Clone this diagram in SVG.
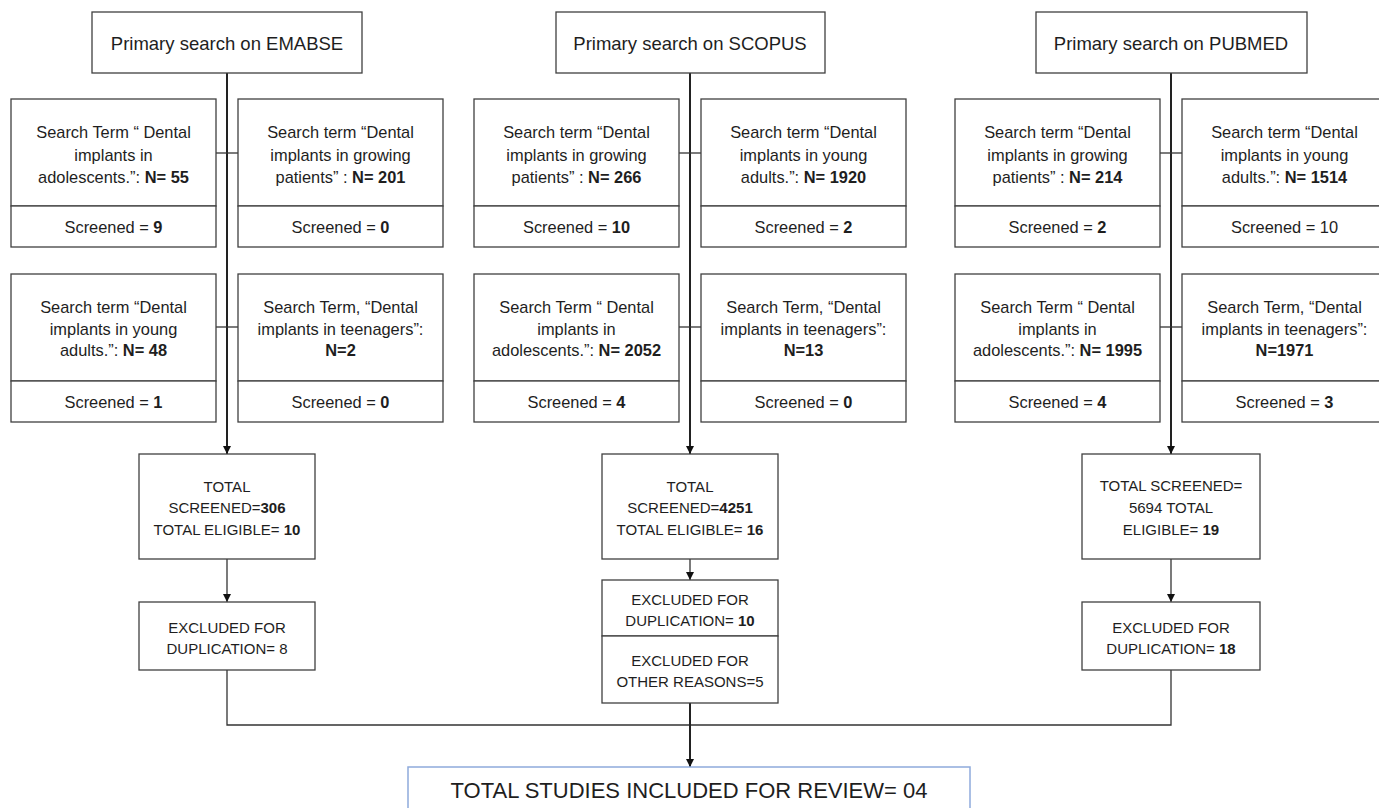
<svg xmlns="http://www.w3.org/2000/svg" width="1379" height="808" viewBox="0 0 1379 808">
<style>
.box{fill:#fff;stroke:#404040;stroke-width:1.3}
.bb{fill:#fff;stroke:#8faadc;stroke-width:1.5}
text{font-family:"Liberation Sans",Arial,sans-serif;fill:#1e1e1e;text-anchor:middle}
.p{font-size:18.5px}
.s{font-size:16.4px}
.t{font-size:15px}
.f{font-size:22px}
b,.b{font-weight:bold}
.c{fill:none;stroke:#333;stroke-width:1.3}
.m{fill:none;stroke:#222;stroke-width:2}
</style>
<defs>
<marker id="ah" viewBox="0 0 10 10" refX="10" refY="5" markerWidth="9" markerHeight="8" markerUnits="userSpaceOnUse" orient="auto">
<path d="M0,0 L10,5 L0,10 z" fill="#111"/>
</marker>
</defs>

<g id="connectors">
<line class="m" x1="227" y1="73" x2="227" y2="454" marker-end="url(#ah)"/>
<line class="m" x1="690" y1="73" x2="690" y2="454" marker-end="url(#ah)"/>
<line class="m" x1="1171" y1="73" x2="1171" y2="454" marker-end="url(#ah)"/>
<line class="c" x1="216" y1="153" x2="238" y2="153"/>
<line class="c" x1="216" y1="327" x2="238" y2="327"/>
<line class="c" x1="679" y1="153" x2="701" y2="153"/>
<line class="c" x1="679" y1="327" x2="701" y2="327"/>
<line class="c" x1="1160" y1="153" x2="1182" y2="153"/>
<line class="c" x1="1160" y1="327" x2="1182" y2="327"/>
<line class="c" x1="227" y1="559" x2="227" y2="602" marker-end="url(#ah)"/>
<line class="c" x1="690" y1="559" x2="690" y2="580" marker-end="url(#ah)"/>
<line class="c" x1="1171" y1="559" x2="1171" y2="602" marker-end="url(#ah)"/>
<polyline class="c" points="227,670 227,725 1171,725 1171,670"/>
<line class="m" x1="690" y1="703" x2="690" y2="767" marker-end="url(#ah)"/>
</g>

<g id="emabse-primary"><rect class="box" x="92" y="12" width="270" height="61"/><text class="p" x="227" y="49.5">Primary search on EMABSE</text></g>
<g id="scopus-primary"><rect class="box" x="556" y="12" width="269" height="61"/><text class="p" x="690" y="49.5">Primary search on SCOPUS</text></g>
<g id="pubmed-primary"><rect class="box" x="1036" y="12" width="271" height="61"/><text class="p" x="1171" y="49.5">Primary search on PUBMED</text></g>

<g id="e1">
<rect class="box" x="11" y="99" width="205" height="107"/><rect class="box" x="11" y="206" width="205" height="41"/>
<text class="s" x="113.5" y="138">Search Term “ Dental</text>
<text class="s" x="113.5" y="160.5">implants in</text>
<text class="s" x="113.5" y="183">adolescents.”: <tspan class="b">N= 55</tspan></text>
<text class="s" x="113.5" y="233">Screened = <tspan class="b">9</tspan></text>
</g>
<g id="e2">
<rect class="box" x="238" y="99" width="205" height="107"/><rect class="box" x="238" y="206" width="205" height="41"/>
<text class="s" x="340.5" y="138">Search term “Dental</text>
<text class="s" x="340.5" y="160.5">implants in growing</text>
<text class="s" x="340.5" y="183">patients” : <tspan class="b">N= 201</tspan></text>
<text class="s" x="340.5" y="233">Screened = <tspan class="b">0</tspan></text>
</g>
<g id="e3">
<rect class="box" x="11" y="274" width="205" height="107"/><rect class="box" x="11" y="381" width="205" height="41"/>
<text class="s" x="113.5" y="313">Search term “Dental</text>
<text class="s" x="113.5" y="334.5">implants in young</text>
<text class="s" x="113.5" y="356">adults.”: <tspan class="b">N= 48</tspan></text>
<text class="s" x="113.5" y="407.5">Screened = <tspan class="b">1</tspan></text>
</g>
<g id="e4">
<rect class="box" x="238" y="274" width="205" height="107"/><rect class="box" x="238" y="381" width="205" height="41"/>
<text class="s" x="340.5" y="313">Search Term, “Dental</text>
<text class="s" x="340.5" y="334.5">implants in teenagers”:</text>
<text class="s b" x="340.5" y="356">N=2</text>
<text class="s" x="340.5" y="407.5">Screened = <tspan class="b">0</tspan></text>
</g>

<g id="s1">
<rect class="box" x="474" y="99" width="205" height="107"/><rect class="box" x="474" y="206" width="205" height="41"/>
<text class="s" x="576.5" y="138">Search term “Dental</text>
<text class="s" x="576.5" y="160.5">implants in growing</text>
<text class="s" x="576.5" y="183">patients” : <tspan class="b">N= 266</tspan></text>
<text class="s" x="576.5" y="233">Screened = <tspan class="b">10</tspan></text>
</g>
<g id="s2">
<rect class="box" x="701" y="99" width="205" height="107"/><rect class="box" x="701" y="206" width="205" height="41"/>
<text class="s" x="803.5" y="138">Search term “Dental</text>
<text class="s" x="803.5" y="160.5">implants in young</text>
<text class="s" x="803.5" y="183">adults.”: <tspan class="b">N= 1920</tspan></text>
<text class="s" x="803.5" y="233">Screened = <tspan class="b">2</tspan></text>
</g>
<g id="s3">
<rect class="box" x="474" y="274" width="205" height="107"/><rect class="box" x="474" y="381" width="205" height="41"/>
<text class="s" x="576.5" y="313">Search Term “ Dental</text>
<text class="s" x="576.5" y="334.5">implants in</text>
<text class="s" x="576.5" y="356">adolescents.”: <tspan class="b">N= 2052</tspan></text>
<text class="s" x="576.5" y="407.5">Screened = <tspan class="b">4</tspan></text>
</g>
<g id="s4">
<rect class="box" x="701" y="274" width="205" height="107"/><rect class="box" x="701" y="381" width="205" height="41"/>
<text class="s" x="803.5" y="313">Search Term, “Dental</text>
<text class="s" x="803.5" y="334.5">implants in teenagers”:</text>
<text class="s b" x="803.5" y="356">N=13</text>
<text class="s" x="803.5" y="407.5">Screened = <tspan class="b">0</tspan></text>
</g>

<g id="p1">
<rect class="box" x="955" y="99" width="205" height="107"/><rect class="box" x="955" y="206" width="205" height="41"/>
<text class="s" x="1057.5" y="138">Search term “Dental</text>
<text class="s" x="1057.5" y="160.5">implants in growing</text>
<text class="s" x="1057.5" y="183">patients” : <tspan class="b">N= 214</tspan></text>
<text class="s" x="1057.5" y="233">Screened = <tspan class="b">2</tspan></text>
</g>
<g id="p2">
<rect class="box" x="1182" y="99" width="205" height="107"/><rect class="box" x="1182" y="206" width="205" height="41"/>
<text class="s" x="1284.5" y="138">Search term “Dental</text>
<text class="s" x="1284.5" y="160.5">implants in young</text>
<text class="s" x="1284.5" y="183">adults.”: <tspan class="b">N= 1514</tspan></text>
<text class="s" x="1284.5" y="233">Screened = 10</text>
</g>
<g id="p3">
<rect class="box" x="955" y="274" width="205" height="107"/><rect class="box" x="955" y="381" width="205" height="41"/>
<text class="s" x="1057.5" y="313">Search Term “ Dental</text>
<text class="s" x="1057.5" y="334.5">implants in</text>
<text class="s" x="1057.5" y="356">adolescents.”: <tspan class="b">N= 1995</tspan></text>
<text class="s" x="1057.5" y="407.5">Screened = <tspan class="b">4</tspan></text>
</g>
<g id="p4">
<rect class="box" x="1182" y="274" width="205" height="107"/><rect class="box" x="1182" y="381" width="205" height="41"/>
<text class="s" x="1284.5" y="313">Search Term, “Dental</text>
<text class="s" x="1284.5" y="334.5">implants in teenagers”:</text>
<text class="s b" x="1284.5" y="356">N=1971</text>
<text class="s" x="1284.5" y="407.5">Screened = <tspan class="b">3</tspan></text>
</g>

<g id="emabse-total">
<rect class="box" x="139" y="454" width="176" height="105"/>
<text class="t" x="227" y="491.5">TOTAL</text>
<text class="t" x="227" y="513">SCREENED=<tspan class="b">306</tspan></text>
<text class="t" x="227" y="535">TOTAL ELIGIBLE= <tspan class="b">10</tspan></text>
</g>
<g id="scopus-total">
<rect class="box" x="602" y="454" width="176" height="105"/>
<text class="t" x="690" y="491.5">TOTAL</text>
<text class="t" x="690" y="513">SCREENED=<tspan class="b">4251</tspan></text>
<text class="t" x="690" y="535">TOTAL ELIGIBLE= <tspan class="b">16</tspan></text>
</g>
<g id="pubmed-total">
<rect class="box" x="1082" y="454" width="178" height="105"/>
<text class="t" x="1171" y="491">TOTAL SCREENED=</text>
<text class="t" x="1171" y="513">5694 TOTAL</text>
<text class="t" x="1171" y="535">ELIGIBLE= <tspan class="b">19</tspan></text>
</g>

<g id="emabse-excluded">
<rect class="box" x="139" y="602" width="176" height="68"/>
<text class="t" x="227" y="632.5">EXCLUDED FOR</text>
<text class="t" x="227" y="653.5">DUPLICATION= 8</text>
</g>
<g id="scopus-excluded">
<rect class="box" x="602" y="580" width="176" height="56"/>
<rect class="box" x="602" y="636" width="176" height="67"/>
<text class="t" x="690" y="604.5">EXCLUDED FOR</text>
<text class="t" x="690" y="625.5">DUPLICATION= <tspan class="b">10</tspan></text>
<text class="t" x="690" y="666">EXCLUDED FOR</text>
<text class="t" x="690" y="687">OTHER REASONS=5</text>
</g>
<g id="pubmed-excluded">
<rect class="box" x="1082" y="602" width="178" height="68"/>
<text class="t" x="1171" y="632.5">EXCLUDED FOR</text>
<text class="t" x="1171" y="653.5">DUPLICATION= <tspan class="b">18</tspan></text>
</g>

<g id="total-included">
<rect class="bb" x="408" y="767" width="562" height="60"/>
<text class="f" x="689" y="798">TOTAL STUDIES INCLUDED FOR REVIEW= 04</text>
</g>
</svg>
